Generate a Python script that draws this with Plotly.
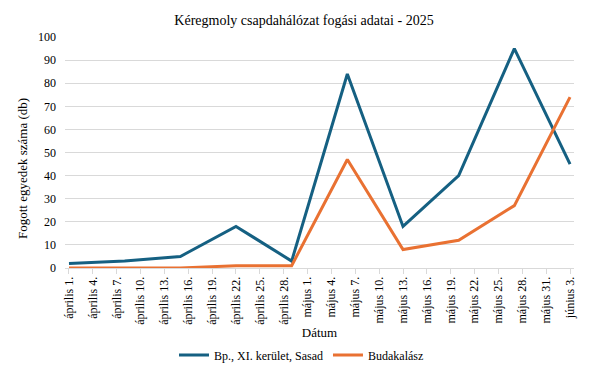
import plotly.graph_objects as go
import pandas as pd

dates = ["2025-04-01", "2025-04-08", "2025-04-15", "2025-04-22", "2025-04-29",
         "2025-05-06", "2025-05-13", "2025-05-20", "2025-05-27", "2025-06-03"]
sasad = [2, 3, 5, 18, 3, 84, 18, 40, 95, 45]
budakalasz = [0, 0, 0, 1, 1, 47, 8, 12, 27, 74]

tick_dates = pd.date_range("2025-04-01", "2025-06-03", freq="3D")
month_names = {4: "április", 5: "május", 6: "június"}
tick_text = [f"{month_names[d.month]} {d.day}." for d in tick_dates]

FONT = "Liberation Serif"
GRID = "#D9D9D9"

fig = go.Figure()
fig.add_trace(go.Scatter(x=dates, y=sasad, mode="lines", name="Bp., XI. kerület, Sasad",
                         line=dict(color="#156082", width=3)))
fig.add_trace(go.Scatter(x=dates, y=budakalasz, mode="lines", name="Budakalász",
                         line=dict(color="#E97132", width=3)))

# page body has an 8px margin; figure is sized to fill the rest of the 600x375 window
OFF = 8
W, H = 600 - OFF, 375 - OFF
L, T = 65 - OFF, 37 - OFF
R = W - (574 - OFF)
B = H - (268 - OFF)
pw, ph = W - L - R, H - T - B

fig.update_layout(
    width=W, height=H,
    margin=dict(l=L, r=R, t=T, b=B, autoexpand=False),
    paper_bgcolor="white", plot_bgcolor="white",
    font=dict(family=FONT, size=12, color="#000000"),
    title=dict(text="Kéregmoly csapdahálózat fogási adatai - 2025",
               x=0.5, xanchor="center", y=1 - (20 - OFF) / H, yanchor="middle",
               font=dict(family=FONT, size=14, color="#000000")),
    showlegend=True,
    legend=dict(orientation="h", x=0.5 - 18 / pw, xanchor="center", y=-(355 - 268) / ph,
                yanchor="middle", font=dict(family=FONT, size=12, color="#000000"),
                itemwidth=30, tracegroupgap=0, bgcolor="rgba(0,0,0,0)"),
    xaxis=dict(
        type="date", automargin=False,
        range=["2025-03-31 12:00", "2025-06-03 12:00"],
        tickvals=[d.strftime("%Y-%m-%d") for d in tick_dates],
        ticktext=tick_text,
        tickangle=-90,
        tickfont=dict(family=FONT, size=12, color="#000000"),
        showgrid=False,
        showline=True, linecolor=GRID, linewidth=1,
        ticks="outside", ticklen=5, tickcolor=GRID,
        ticklabelstandoff=-2,
        title=dict(text="Dátum", font=dict(family=FONT, size=13, color="#000000"), standoff=4),
        zeroline=False,
    ),
    yaxis=dict(
        range=[0, 100], dtick=10, automargin=False,
        showgrid=True, gridcolor=GRID, gridwidth=1,
        zeroline=False, showline=False,
        tickfont=dict(family=FONT, size=12, color="#000000"),
        ticks="", ticklabelstandoff=8,
    ),
    annotations=[dict(text="Fogott egyedek száma (db)", textangle=-90,
                      xref="paper", yref="paper",
                      x=-(65 - 22) / pw, y=(268 - 169) / ph,
                      xanchor="center", yanchor="middle", showarrow=False,
                      font=dict(family=FONT, size=13, color="#000000"))],
)

fig.write_html("out.html")
